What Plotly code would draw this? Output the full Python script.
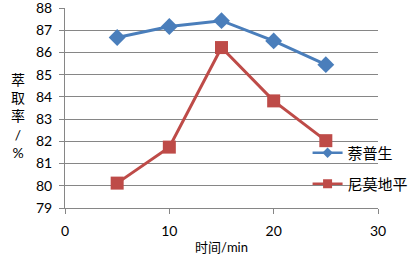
import plotly.graph_objects as go

time_min = [5, 10, 15, 20, 25]
naproxen = [86.67, 87.17, 87.43, 86.52, 85.45]
nimodipine = [80.12, 81.74, 86.22, 83.82, 82.03]

FONT = "Lato, 'Noto Sans CJK SC', sans-serif"
BLUE = "#4a7ebb"
RED = "#be4b48"

fig = go.Figure()
fig.add_trace(go.Scatter(
    x=time_min, y=naproxen, mode="lines+markers", name="萘普生",
    line=dict(color=BLUE, width=3),
    marker=dict(symbol="diamond", size=13, color=BLUE),
    showlegend=False,
))
fig.add_trace(go.Scatter(
    x=time_min, y=nimodipine, mode="lines+markers", name="尼莫地平",
    line=dict(color=RED, width=3),
    marker=dict(symbol="square", size=13, color=RED),
    showlegend=False,
))
# legend entries with the smaller legend symbols of the reference
fig.add_trace(go.Scatter(
    x=[None], y=[None], mode="lines+markers", name="萘普生",
    line=dict(color=BLUE, width=2.5),
    marker=dict(symbol="diamond", size=8, color=BLUE),
    legend="legend",
))
fig.add_trace(go.Scatter(
    x=[None], y=[None], mode="lines+markers", name="尼莫地平",
    line=dict(color=RED, width=2.5),
    marker=dict(symbol="square", size=9, color=RED),
    legend="legend2",
))

leg_common = dict(bgcolor="rgba(0,0,0,0)", font=dict(family=FONT, size=15, color="#000"),
                  xanchor="left", yanchor="middle", itemwidth=30)
fig.update_layout(
    width=408, height=262,
    margin=dict(l=65, r=30, t=8, b=54, autoexpand=False),
    paper_bgcolor="white", plot_bgcolor="white",
    font=dict(family=FONT, size=13, color="#000"),
    showlegend=True,
    legend=dict(x=0.775, y=(208 - 153) / 200, **leg_common),
    legend2=dict(x=0.775, y=(208 - 184) / 200, **leg_common),
    xaxis=dict(range=[0, 30], tickvals=[0, 10, 20, 30], showgrid=False,
               showline=True, linecolor="#868686", linewidth=1,
               ticks="outside", ticklen=5, tickcolor="#868686",
               zeroline=False, tickfont=dict(size=14), automargin=False,
               ticklabelstandoff=5,
               title=dict(text="时间/min", font=dict(size=13), standoff=5)),
    yaxis=dict(range=[79, 88], dtick=1, showgrid=True, gridcolor="#868686", gridwidth=1,
               showline=True, linecolor="#868686", linewidth=1,
               ticks="outside", ticklen=5, tickcolor="#868686",
               zeroline=False, tickfont=dict(size=14), automargin=False,
               ticklabeloverflow="allow", ticklabelstandoff=4),
)
fig.add_annotation(text="萃<br>取<br>率<br>/<br>%", xref="paper", yref="paper",
                   x=(18 - 65) / 313, y=0.46, showarrow=False, xanchor="center", yanchor="middle",
                   font=dict(size=14, family=FONT))
fig.write_html("out.html", config={"displayModeBar": False},
               post_script="document.body.style.margin='0';")
